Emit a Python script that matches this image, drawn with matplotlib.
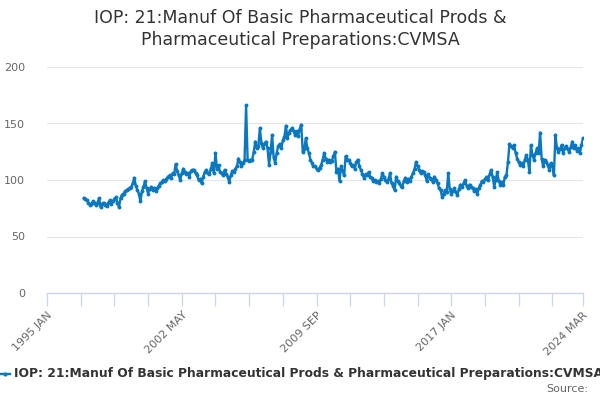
import numpy as np
import matplotlib
matplotlib.use("Agg")
import matplotlib.pyplot as plt

# monthly index values, Jan 1997 .. Mar 2024
start_month = 24  # months after 1995 JAN
values = [
    84, 83, 82, 80, 78, 79, 81, 80, 78, 80, 84, 76,          # 1997
    79, 80, 78, 77, 80, 82, 79, 81, 83, 85, 80, 76,          # 1998
    84, 87, 88, 90, 91, 92, 93, 94, 97, 102, 95, 91,         # 1999
    88, 81, 90, 94, 99, 93, 88, 92, 94, 91, 93, 90,          # 2000
    93, 95, 97, 98, 100, 99, 101, 103, 104, 102, 106, 105,   # 2001
    114, 108, 104, 100, 106, 110, 107, 105, 106, 103, 108, 109,  # 2002
    109, 106, 104, 100, 101, 97, 103, 107, 109, 106, 105, 110,   # 2003
    115, 106, 124, 110, 113, 107, 106, 104, 109, 105, 103, 98,   # 2004
    104, 108, 107, 110, 112, 119, 116, 112, 115, 118, 166, 118,  # 2005
    117, 118, 118, 125, 134, 128, 130, 146, 133, 128, 132, 134,  # 2006
    128, 113, 125, 140, 120, 115, 124, 130, 132, 128, 135, 138,  # 2007
    148, 137, 142, 144, 146, 143, 140, 143, 139, 145, 149, 125,  # 2008
    127, 137, 128, 124, 118, 115, 112, 112, 110, 109, 111, 113,  # 2009
    118, 124, 119, 116, 118, 116, 117, 121, 125, 107, 110, 99,   # 2010
    112, 108, 104, 121, 118, 118, 115, 112, 113, 110, 116, 118,  # 2011
    112, 109, 105, 102, 105, 104, 107, 103, 102, 99, 100, 98,    # 2012
    99, 97, 101, 106, 103, 100, 98, 101, 106, 97, 95, 91,        # 2013
    103, 99, 97, 95, 94, 99, 102, 98, 101, 99, 103, 106,         # 2014
    110, 116, 112, 109, 106, 108, 107, 104, 99, 105, 102, 101,   # 2015
    98, 103, 100, 97, 93, 91, 85, 88, 91, 89, 106, 92,           # 2016
    88, 90, 93, 89, 87, 92, 96, 94, 97, 100, 95, 93,             # 2017
    96, 94, 93, 90, 92, 88, 93, 96, 99, 98, 101, 103,            # 2018
    100, 105, 109, 103, 94, 100, 107, 99, 96, 98, 96, 103,       # 2019
    104, 116, 132, 130, 128, 131, 124, 119, 116, 113, 115, 112,  # 2020
    118, 122, 118, 107, 131, 122, 118, 124, 128, 124, 142, 119,  # 2021
    112, 118, 116, 113, 109, 115, 112, 104, 140, 128, 125, 127,  # 2022
    131, 124, 128, 130, 127, 125, 129, 134, 128, 131, 126, 128,  # 2023
    124, 131, 137,                                               # 2024
]
months = np.arange(start_month, start_month + len(values))

tick_pos = list(range(0, 331, 22)) + [350]
label_pos = [0, 88, 176, 264, 350]
label_text = ["1995 JAN", "2002 MAY", "2009 SEP", "2017 JAN", "2024 MAR"]
y_ticks = [0, 50, 100, 150, 200]

title = "IOP: 21:Manuf Of Basic Pharmaceutical Prods &\nPharmaceutical Preparations:CVMSA"
series_name = "IOP: 21:Manuf Of Basic Pharmaceutical Prods & Pharmaceutical Preparations:CVMSA"

line_color = "#0a78be"
axis_color = "#ccd6eb"

fig = plt.figure(figsize=(6, 4), dpi=100)
ax = fig.add_axes([47 / 600, 107 / 400, 536 / 600, 226 / 400])

ax.plot(months, values, color=line_color, lw=1.7, marker="o", ms=2.8,
        markeredgewidth=0, zorder=3)

ax.set_xlim(0, 350)
ax.set_ylim(0, 200)
ax.set_yticks(y_ticks)
ax.set_yticklabels([str(v) for v in y_ticks])
ax.yaxis.grid(True, color="#e6e6e6", lw=0.8)
ax.set_axisbelow(True)
ax.tick_params(axis="y", length=0, labelsize=8, labelcolor="#666666", pad=16)

ax.set_xticks(tick_pos)
ax.set_xticklabels([label_text[label_pos.index(p)] if p in label_pos else "" for p in tick_pos],
                   rotation=45, ha="right", rotation_mode="anchor")
ax.tick_params(axis="x", length=9, width=0.9, color=axis_color, labelsize=8,
               labelcolor="#666666", pad=3)

for s in ["top", "right", "left"]:
    ax.spines[s].set_visible(False)
ax.spines["bottom"].set_color(axis_color)
ax.spines["bottom"].set_linewidth(1)

fig.text(0.5, 1 - 29 / 400, title, ha="center", va="center", fontsize=12.5,
         color="#333333", linespacing=1.3)

# legend drawn at the bottom (text runs off the right edge as in the original)
fig.add_artist(plt.Line2D([0, 10 / 600], [1 - 374 / 400] * 2, color=line_color, lw=1.7,
                          transform=fig.transFigure))
fig.add_artist(plt.Line2D([5 / 600], [1 - 374 / 400], color=line_color, marker="o", ms=3,
                          markeredgewidth=0, transform=fig.transFigure))
fig.text(14 / 600, 1 - 374 / 400, series_name, ha="left", va="center", fontsize=8.8,
         fontweight="bold", color="#333333")
fig.text(588 / 600, 1 - 389 / 400, "Source:", ha="right", va="center", fontsize=8,
         color="#666666")

fig.savefig("out.png", dpi=100)
